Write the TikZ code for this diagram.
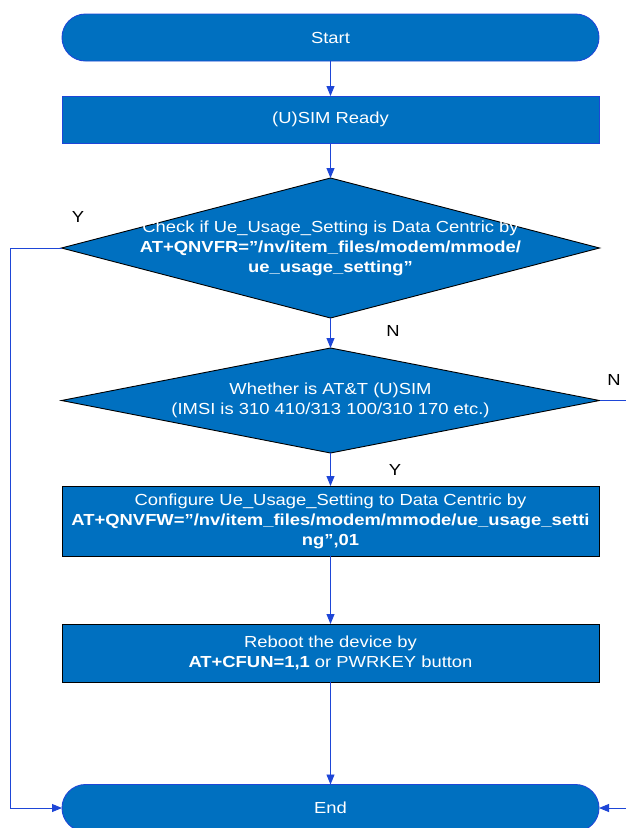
\documentclass[tikz,border=0pt]{standalone}
\usepackage{fontspec}
\setmainfont[FakeStretch=1.15]{Liberation Sans}
\usetikzlibrary{shapes.geometric,arrows.meta}
\definecolor{boxblue}{RGB}{0,112,192}
\definecolor{linkblue}{RGB}{30,70,215}
\newcommand\sdq{\symbol{34}}
\begin{document}
\begin{tikzpicture}[x=1pt,y=-1pt,
  base/.style={fill=boxblue, text=white, inner sep=0pt, outer sep=0pt, line width=0.9pt, font=\fontsize{16}{20}\selectfont, align=center},
  term/.style={base, draw=linkblue, rounded corners=23.5pt, minimum width=537pt, minimum height=47pt},
  proc/.style={base, draw=black, minimum width=537pt},
  dec/.style={base, draw=black, diamond, minimum width=538pt},
  dtext/.style={text=white, inner sep=0pt, font=\fontsize{16}{20}\selectfont, align=center},
  lbl/.style={text=black, inner sep=0pt, font=\fontsize{16}{20}\selectfont},
  flow/.style={draw=linkblue, line width=0.9pt, -{Triangle[length=10pt,width=8pt]}}
]
\useasboundingbox (0,0) rectangle (625,828);

\node[term] (start) at (330.5,37.5) {Start};
\node[proc, draw=linkblue, minimum height=47pt] (ready) at (330.5,119.5) {(U)SIM Ready};
\node[dec, minimum height=140pt] (d1) at (330.5,248) {};
\node[dtext] (d1t) at (330.5,248) {Check if Ue\_Usage\_Setting is Data Centric by\\
  \textbf{AT+QNVFR=\sdq/nv/item\_files/modem/mmode/}\\
  \textbf{ue\_usage\_setting\sdq}};
\node[dec, minimum height=105pt] (d2) at (330.5,400.5) {};
\node[dtext] (d2t) at (330.5,400) {Whether is AT\&T (U)SIM\\(IMSI is 310 410/313 100/310 170 etc.)};
\node[proc, minimum height=70pt] (conf) at (330.5,521) {Configure Ue\_Usage\_Setting to Data Centric by\\
  \textbf{AT+QNVFW=\sdq/nv/item\_files/modem/mmode/ue\_usage\_setti}\\
  \textbf{ng\sdq,01}};
\node[proc, minimum height=58pt] (reboot) at (330.5,653) {Reboot the device by\\
  \textbf{AT+CFUN=1,1} or PWRKEY button};
\node[term] (end) at (330.5,808) {End};

\node[lbl] (y1) at (78,217) {Y};
\node[lbl] (n1) at (393,331) {N};
\node[lbl] (n2) at (614,380) {N};
\node[lbl] (y2) at (395,470) {Y};

\coordinate (lft) at (10,0);
\coordinate (rgt) at (640,0);

\draw[flow] (start.south) -- (ready.north);
\draw[flow] (ready.south) -- (d1.north);
\draw[flow] (d1.south) -- (d2.north);
\draw[flow] (d2.south) -- (conf.north);
\draw[flow] (conf.south) -- (reboot.north);
\draw[flow] (reboot.south) -- (end.north);
\draw[flow] (d1.west) -- (d1.west -| lft) -- (end.west -| lft) -- (end.west);
\draw[flow] (d2.east) -- (d2.east -| rgt) -- (end.east -| rgt) -- (end.east);
\end{tikzpicture}
\end{document}
